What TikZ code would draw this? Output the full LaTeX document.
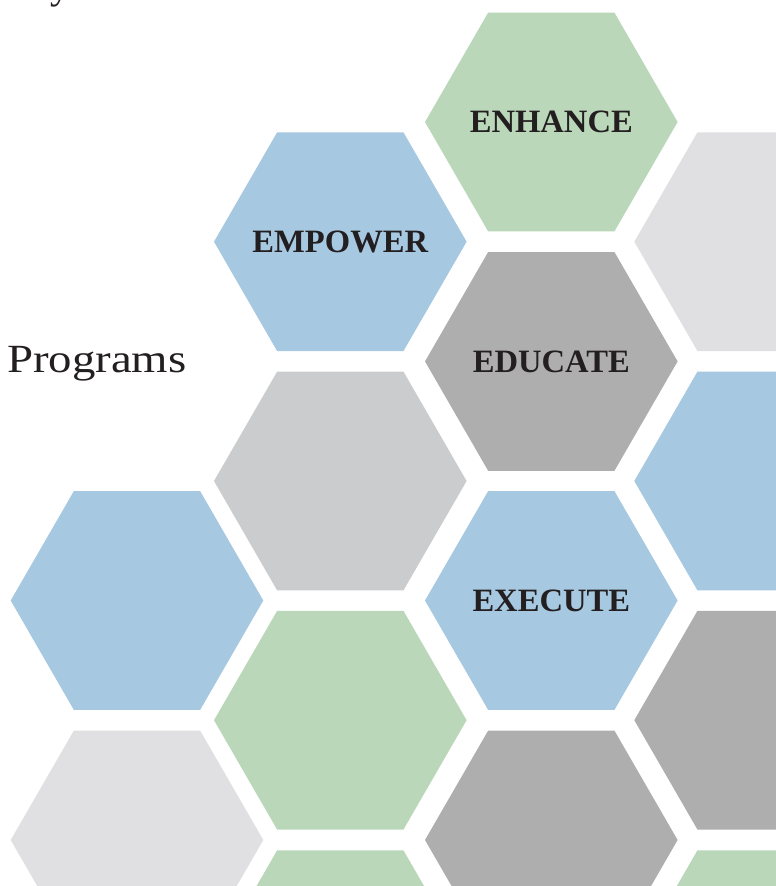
\documentclass[tikz,border=0pt]{standalone}
\usepackage{fontspec}
\usepackage{graphicx}
\setmainfont{Liberation Serif}
\usetikzlibrary{shapes.geometric}
\definecolor{hgreen}{HTML}{BAD8B9}
\definecolor{hblue}{HTML}{A6C8E0}
\definecolor{hdark}{HTML}{AEAEAE}
\definecolor{hmid}{HTML}{CBCCCE}
\definecolor{hlight}{HTML}{E0E0E2}
\definecolor{txt}{HTML}{231F20}
\tikzset{
  hexa/.style={regular polygon, regular polygon sides=6, minimum size=252.6pt,
    inner sep=0pt, outer sep=0pt, draw=none, fill=#1},
  hexlabel/.style={inner sep=0pt, text=txt, font=\fontsize{32.6}{36}\selectfont\bfseries},
  plaintext/.style={anchor=base west, inner sep=0pt, text=txt, font=\fontsize{40}{44}\selectfont},
}
\begin{document}
\begin{tikzpicture}[x=1pt,y=-1pt]
\useasboundingbox (0,0) rectangle (776,886);
\clip (0,0) rectangle (776,886);
\fill[white] (0,0) rectangle (776,886);
% columns 137, 340.3, 551.3, 760.6 ; rows step 119.7
\node[hexa=hgreen] (enhance) at (551.3,122) {};
\node[hexa=hblue]  (empower) at (340.3,241.7) {};
\node[hexa=hlight] (r1c4)    at (760.6,241.7) {};
\node[hexa=hdark]  (educate) at (551.3,361.4) {};
\node[hexa=hmid]   (r3c2)    at (340.3,481) {};
\node[hexa=hblue]  (r3c4)    at (760.6,481) {};
\node[hexa=hblue]  (r4c1)    at (137,600.5) {};
\node[hexa=hblue]  (execute) at (551.3,600.5) {};
\node[hexa=hgreen] (r5c2)    at (340.3,720.2) {};
\node[hexa=hdark]  (r5c4)    at (760.6,720.2) {};
\node[hexa=hlight] (r6c1)    at (137,840) {};
\node[hexa=hdark]  (r6c3)    at (551.3,840) {};
\node[hexa=hgreen] (r7c2)    at (340.3,959.7) {};
\node[hexa=hgreen] (r7c4)    at (760.6,959.7) {};
\node[hexlabel] (tenhance) at (enhance.center) {ENHANCE};
\node[hexlabel] (tempower) at (empower.center) {EMPOWER};
\node[hexlabel] (teducate) at (educate.center) {EDUCATE};
\node[hexlabel] (texecute) at (execute.center) {EXECUTE};
\node[plaintext] (programs) at (7,372.5) {\scalebox{1.17}[1]{Programs}};
\node[plaintext] (frag) at (50,-1.5) {y};
\end{tikzpicture}
\end{document}
